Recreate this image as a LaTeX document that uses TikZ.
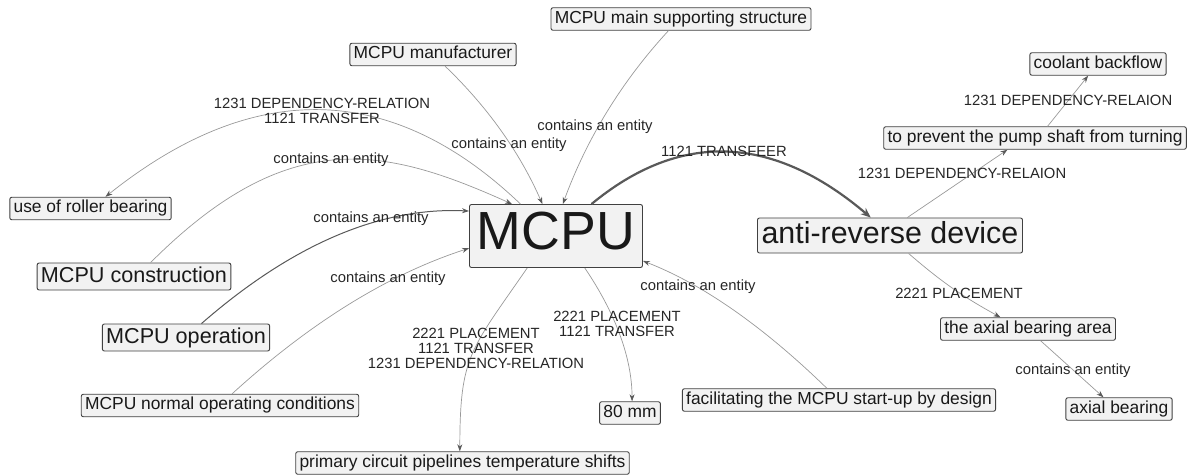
\documentclass[tikz,border=0pt]{standalone}
\usepackage{fontspec}
\setmainfont{Liberation Sans}
\usetikzlibrary{arrows.meta}

\begin{document}
\begin{tikzpicture}[x=1pt, y=1pt,
  ent/.style={draw=black!75, line width=0.9pt, fill=black!5, rounded corners=2pt,
    text=black!90, inner xsep=3.8pt, inner ysep=0pt, text height=12.5pt, text depth=3.7pt,
    font=\fontsize{17.4}{20}\selectfont, minimum height=22.5pt},
  entmid/.style={ent, font=\fontsize{21.6}{24}\selectfont, text height=15.5pt, text depth=4.5pt, minimum height=27pt},
  entlarge/.style={ent, font=\fontsize{30.4}{34}\selectfont, text height=21.9pt, text depth=6.4pt,
    minimum width=265pt, minimum height=35pt},
  entbig/.style={ent, font=\fontsize{53.7}{60}\selectfont, text height=38.7pt, text depth=11.3pt,
    minimum width=173pt, minimum height=63pt},
  rel/.style={font=\fontsize{14.8}{15}\selectfont, text=black!85, align=center, inner sep=0pt},
  link/.style={draw=black!40, line width=0.7pt, -{Stealth[length=7pt, width=5pt, color=black!65]}},
  mainlink/.style={draw=black!65, line width=2.2pt, -{Stealth[length=10pt, width=8pt]}}]
  \useasboundingbox (0,0) rectangle (1187,-476);
  % entities
  \node[entbig] (mcpu) at (556,-236) {MCPU};
  \node[entlarge] (anti) at (890,-235.5) {anti-reverse device};
  \node[ent] (support) at (681,-19) {MCPU main supporting structure};
  \node[ent] (maker) at (433,-54.5) {MCPU manufacturer};
  \node[ent] (backflow) at (1098,-64) {coolant backflow};
  \node[ent] (prevent) at (1035,-138) {to prevent the pump shaft from turning};
  \node[ent] (roller) at (90.5,-208.5) {use of roller bearing};
  \node[entmid] (build) at (134,-276.5) {MCPU construction};
  \node[entmid] (oper) at (186,-337.5) {MCPU operation};
  \node[ent] (area) at (1028,-329) {the axial bearing area};
  \node[ent] (normal) at (220,-405.5) {MCPU normal operating conditions};
  \node[ent] (startup) at (839,-400) {facilitating the MCPU start-up by design};
  \node[ent] (bearing) at (1119,-409) {axial bearing};
  \node[ent] (size) at (630,-413) {80 mm};
  \node[ent] (pipes) at (462.5,-463) {primary circuit pipelines temperature shifts};
  % relations
  \draw[link] (mcpu.138) .. controls (391.7,-81) and (253.3,-78.7) .. (roller.38);
  \draw[link] (build.40) .. controls (288.4,-124.6) and (384.5,-146.7) .. (mcpu.144);
  \draw[link] (maker.-44) .. controls (486.3,-105.7) and (519,-150.7) .. (mcpu.113);
  \draw[link] (support.223) .. controls (621.7,-81.4) and (586.7,-138.7) .. (mcpu.78);
  \draw[mainlink] (mcpu.42) .. controls (680.7,-130.3) and (773.3,-134.7) .. (anti.137);
  \draw[link, draw=black!65, line width=1pt] (oper.42) .. controls (292.3,-244.3) and (381,-206.7) .. (mcpu.164);
  \draw[link] (normal.44) .. controls (310,-322.7) and (388.3,-274.3) .. (mcpu.188);
  \draw[link] (mcpu.228) .. controls (469.8,-351.2) and (460,-355.4) .. (pipes.103);
  \draw[link] (mcpu.312) .. controls (616.3,-314.5) and (632,-359.1) .. (size.80);
  \draw[link] (startup.136) .. controls (762.7,-325.9) and (702.1,-283.9) .. (mcpu.344);
  \draw[link] (anti.46) -- (prevent.203);
  \draw[link] (prevent.43) -- (backflow.230);
  \draw[link] (anti.316) to[bend right=6] (area.157);
  \draw[link] (area.317) -- (bearing.143);
  % relation labels
  \node[rel] (r1) at (322,-111) {1231 DEPENDENCY-RELATION\\1121 TRANSFER};
  \node[rel] (r2) at (331,-160) {contains an entity};
  \node[rel] (r3) at (509,-145) {contains an entity};
  \node[rel] (r4) at (595,-127) {contains an entity};
  \node[rel] (r5) at (724,-151) {1121 TRANSFEER};
  \node[rel] (r6) at (371,-219) {contains an entity};
  \node[rel] (r7) at (388,-279) {contains an entity};
  \node[rel] (r8) at (476,-348) {2221 PLACEMENT\\1121 TRANSFER\\1231 DEPENDENCY-RELATION};
  \node[rel] (r9) at (617,-323.5) {2221 PLACEMENT\\1121 TRANSFER};
  \node[rel] (r10) at (698,-287) {contains an entity};
  \node[rel] (r11) at (962,-173) {1231 DEPENDENCY-RELAION};
  \node[rel] (r12) at (1068,-100) {1231 DEPENDENCY-RELAION};
  \node[rel] (r13) at (959,-293) {2221 PLACEMENT};
  \node[rel] (r14) at (1073,-371) {contains an entity};
\end{tikzpicture}
\end{document}
